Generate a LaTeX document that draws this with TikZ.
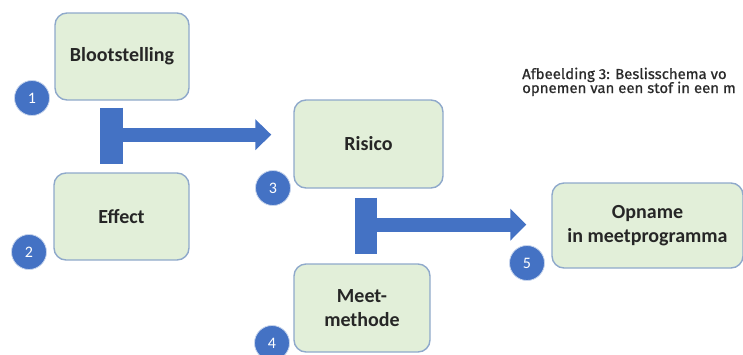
\documentclass[tikz,border=0pt]{standalone}
\usepackage{fontspec}
\setmainfont{Carlito}
\newfontfamily\capfont[FakeStretch=1.03,FakeBold=0.8]{Fira Sans}
\usetikzlibrary{arrows.meta,calc}
\definecolor{boxfill}{HTML}{E2EFD9}
\definecolor{boxline}{HTML}{8FA9CB}
\definecolor{officeblue}{HTML}{4472C4}
\definecolor{captext}{HTML}{2A2A2A}
\tikzset{
  box/.style={draw=boxline, fill=boxfill, line width=1.4pt, rounded corners=12pt,
    align=center, font=\fontsize{20}{24}\selectfont\bfseries, text=black!85, inner sep=0pt},
  badge/.style={circle, fill=officeblue, draw=white!70!officeblue, line width=0.8pt,
    minimum size=35pt, inner sep=0pt, text=white, font=\fontsize{16}{16}\selectfont},
  tbar/.style={draw=officeblue, line cap=butt},
  tarrow/.style={draw=officeblue, line width=14pt, line cap=butt},
  captionline/.style={anchor=base west, inner sep=0pt, text=captext,
    font=\capfont\fontsize{14.5}{11}\selectfont}
}
\begin{document}
\begin{tikzpicture}[x=1pt,y=-1pt]
\path[use as bounding box] (0,0) rectangle (743,354);
\clip (0,0) rectangle (743,354);
% boxes
\node[box, minimum width=134pt, minimum height=87pt] (b1) at (122,56.5) {Blootstelling};
\node[box, minimum width=135pt, minimum height=87pt] (b2) at (121.5,216.5) {Effect};
\node[box, minimum width=149pt, minimum height=88pt] (b3) at (368.5,144) {Risico};
\node[box, minimum width=136pt, minimum height=88pt] (b4) at (362,308) {Meet-\\methode};
\node[box, minimum width=191pt, minimum height=85pt] (b5) at (647.5,225.5) {Opname\\in meetprogramma};
% badges
\node[badge] (c1) at (32,98) {1};
\node[badge] (c2) at (29,252) {2};
\node[badge] (c3) at (273,188) {3};
\node[badge] (c4) at (272,343) {4};
\node[badge] (c5) at (527,263) {5};
% first T connector
\draw[tbar, line width=23pt] ($(b1.south)+(-10.5,7)$) -- ($(b2.north)+(-10,-8)$);
\coordinate (j1) at ($(b1.south)+(-10.5,34)$);
\draw[tarrow, -{Triangle[width=30pt,length=16pt]}] (j1) -- ([xshift=-22pt]j1 -| b3.west);
% second T connector
\draw[tbar, line width=22pt] ($(b3.south)+(-2.5,9)$) -- ($(b4.north)+(4,-9)$);
\coordinate (j2) at ($(b3.south)+(-2.5,36)$);
\draw[tarrow, -{Triangle[width=31pt,length=16pt]}] (j2) -- ([xshift=-25pt]j2 -| b5.west);
% caption (cut off at the right edge, as in the reference)
\node[captionline] (cap1) at (522,79) {Afbeelding 3: Beslisschema vo};
\node[captionline] (cap2) at (522,93) {opnemen van een stof in een m};
\end{tikzpicture}
\end{document}
